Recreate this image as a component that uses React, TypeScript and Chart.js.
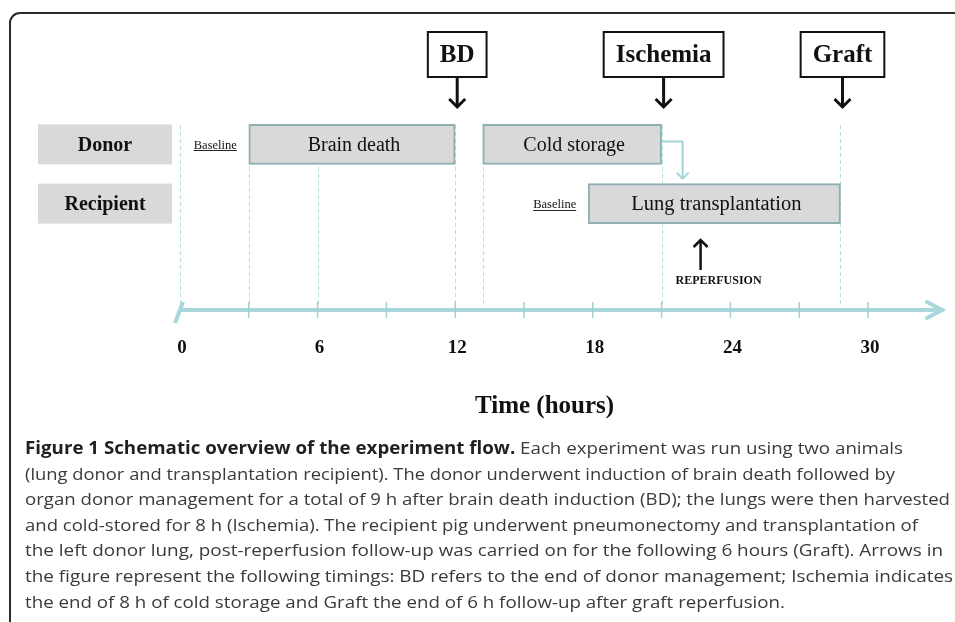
import React, { useEffect, useRef } from 'react';
import { Chart, registerables } from 'chart.js';

Chart.register(...registerables);

// ---------- data ----------
const phaseNames = ['Brain death', 'Cold storage', 'Lung transplantation'];
const phaseStart = [3, 13.2, 17.8];
const phaseEnd = [12, 21, 28.8];
const phaseRow = [2, 2, 1];

const rowNames = ['Donor', 'Recipient'];
const rowValues = [2, 1];
const baselineText = 'Baseline';

const eventNames = ['BD', 'Ischemia', 'Graft'];
const eventTimes = [12, 21, 28.8];

const reperfusionLabel = 'REPERFUSION';
const reperfusionTime = 22.7;

const guideTimes = [0, 3, 6, 12, 13.2, 21, 28.8];
const minorTickValues = [3, 6, 9, 12, 15, 18, 21, 24, 27, 30];
const tickLabelValues = [0, 6, 12, 18, 24, 30];
const tickLabels = ['0', '6', '12', '18', '24', '30'];
const axisTitle = 'Time (hours)';

const captionBold = 'Figure 1 Schematic overview of the experiment flow.';
const captionLines = [
  ' Each experiment was run using two animals',
  '(lung donor and transplantation recipient). The donor underwent induction of brain death followed by',
  'organ donor management for a total of 9 h after brain death induction (BD); the lungs were then harvested',
  'and cold-stored for 8 h (Ischemia). The recipient pig underwent pneumonectomy and transplantation of',
  'the left donor lung, post-reperfusion follow-up was carried on for the following 6 hours (Graft). Arrows in',
  'the figure represent the following timings: BD refers to the end of donor management; Ischemia indicates',
  'the end of 8 h of cold storage and Graft the end of 6 h follow-up after graft reperfusion.',
];

// ---------- layout (pixels) ----------
const W = 955;
const H = 622;
const AXIS_Y = 310;
const GUIDE_TOP = 125;
const CAPTION_X = 25;
const CAPTION_BASE = 454;
const CAPTION_STEP = 25.6;
const CAPTION_RIGHT = [903, 895, 950, 918, 943, 953, 785];
const SERIF = '"Liberation Serif", "Times New Roman", serif';
const SANS = '"Open Sans", "Noto Sans", sans-serif';
const TEAL = '#a9d7db';

function seg(ctx: CanvasRenderingContext2D, x1: number, y1: number, x2: number, y2: number) {
  ctx.beginPath();
  ctx.moveTo(x1, y1);
  ctx.lineTo(x2, y2);
  ctx.stroke();
}

function chevron(ctx: CanvasRenderingContext2D, x: number, y: number, dir: number, arm: number) {
  // dir: 1 = pointing down, -1 = pointing up
  ctx.beginPath();
  ctx.moveTo(x - arm, y - dir * arm);
  ctx.lineTo(x, y);
  ctx.lineTo(x + arm, y - dir * arm);
  ctx.stroke();
}

const diagramPlugin = {
  id: 'diagram',
  beforeDatasetsDraw(chart: any) {
    const ctx: CanvasRenderingContext2D = chart.ctx;
    const xs = chart.scales.x;
    ctx.save();
    // frame
    ctx.strokeStyle = '#2a2a2a';
    ctx.lineWidth = 2;
    ctx.beginPath();
    ctx.moveTo(W + 5, 13);
    ctx.lineTo(20, 13);
    ctx.arcTo(10, 13, 10, 23, 10);
    ctx.lineTo(10, H + 5);
    ctx.stroke();

    // dashed guides
    ctx.strokeStyle = '#b4dee2';
    ctx.lineWidth = 1;
    ctx.setLineDash([4, 3]);
    guideTimes.forEach((t) => {
      const x = Math.round(xs.getPixelForValue(t)) + 0.5;
      seg(ctx, x, GUIDE_TOP, x, AXIS_Y - 4);
    });
    ctx.setLineDash([]);

    // axis
    const x0 = xs.getPixelForValue(0);
    ctx.strokeStyle = TEAL;
    ctx.lineWidth = 4;
    seg(ctx, x0 - 1, AXIS_Y, 940, AXIS_Y);
    ctx.lineCap = 'round';
    chevron(ctx, 942, AXIS_Y, 1, 0);
    ctx.beginPath();
    ctx.moveTo(927, AXIS_Y - 8);
    ctx.lineTo(942, AXIS_Y);
    ctx.lineTo(927, AXIS_Y + 8);
    ctx.stroke();
    ctx.lineCap = 'butt';
    seg(ctx, x0 - 5, AXIS_Y + 13, x0 + 3, AXIS_Y - 8);

    // ticks
    ctx.lineWidth = 1.5;
    ctx.strokeStyle = '#a3d0d4';
    minorTickValues.forEach((t) => {
      const x = xs.getPixelForValue(t);
      seg(ctx, x, AXIS_Y - 8, x, AXIS_Y + 8);
    });

    // tick labels
    ctx.fillStyle = '#111';
    ctx.font = `bold 19px ${SERIF}`;
    ctx.textAlign = 'center';
    ctx.textBaseline = 'middle';
    tickLabelValues.forEach((t, i) => {
      ctx.fillText(tickLabels[i], xs.getPixelForValue(t) + 2, 348);
    });

    // axis title
    ctx.font = `bold 25px ${SERIF}`;
    ctx.textAlign = 'left';
    ctx.textBaseline = 'alphabetic';
    ctx.fillText(axisTitle, 475, 413);
    ctx.restore();
  },
  afterDatasetsDraw(chart: any) {
    const ctx: CanvasRenderingContext2D = chart.ctx;
    const xs = chart.scales.x;
    const ys = chart.scales.y;
    const bars = chart.getDatasetMeta(0).data;
    ctx.save();

    // phase labels
    ctx.fillStyle = '#111';
    ctx.textAlign = 'center';
    ctx.textBaseline = 'middle';
    bars.forEach((b: any, i: number) => {
      ctx.font = `${i === 2 ? 20.5 : 20}px ${SERIF}`;
      ctx.fillText(phaseNames[i], (b.x + b.base) / 2 + 2, b.y + 1);
    });

    // row label boxes
    rowValues.forEach((r, i) => {
      const y = ys.getPixelForValue(r);
      ctx.fillStyle = '#d9d9d9';
      ctx.fillRect(38, y - 20, 134, 40);
      ctx.fillStyle = '#111';
      ctx.font = `bold 20px ${SERIF}`;
      ctx.textAlign = 'center';
      ctx.fillText(rowNames[i], 105, y + 1);

      // baseline label before the first phase of the row
      let first = -1;
      phaseRow.forEach((pr, k) => {
        if (pr === r && (first < 0 || phaseStart[k] < phaseStart[first])) first = k;
      });
      if (first >= 0) {
        const b = bars[first];
        const right = b.base - 12;
        ctx.font = `12.5px ${SERIF}`;
        ctx.textAlign = 'right';
        const w = ctx.measureText(baselineText).width;
        ctx.fillText(baselineText, right, y + 1);
        ctx.strokeStyle = '#222';
        ctx.lineWidth = 1;
        seg(ctx, right - w, Math.round(y) + 6.5, right, Math.round(y) + 6.5);
      }
    });

    // event boxes and arrows
    ctx.font = `bold 25px ${SERIF}`;
    ctx.textAlign = 'center';
    eventNames.forEach((name, i) => {
      const x = xs.getPixelForValue(eventTimes[i]) + 2;
      const w = ctx.measureText(name).width + 24;
      ctx.fillStyle = '#fff';
      ctx.fillRect(x - w / 2, 32, w, 45);
      ctx.strokeStyle = '#111';
      ctx.lineWidth = 2;
      ctx.strokeRect(x - w / 2, 32, w, 45);
      ctx.fillStyle = '#111';
      ctx.fillText(name, x, 56);
      ctx.lineWidth = 3;
      seg(ctx, x, 77, x, 106);
      chevron(ctx, x, 107, 1, 8);
    });

    // connector cold storage -> lung transplantation
    const cs = bars[1];
    const lt = bars[2];
    const cx = cs.x + 21;
    ctx.strokeStyle = '#a3d4da';
    ctx.lineWidth = 2;
    ctx.beginPath();
    ctx.moveTo(cs.x, cs.y - 3);
    ctx.lineTo(cx, cs.y - 3);
    ctx.lineTo(cx, lt.y - 25);
    ctx.stroke();
    chevron(ctx, cx, lt.y - 25, 1, 6);

    // reperfusion arrow
    const rx = xs.getPixelForValue(reperfusionTime);
    ctx.strokeStyle = '#111';
    ctx.lineWidth = 2.5;
    seg(ctx, rx, 270, rx, 241);
    chevron(ctx, rx, 240, -1, 7);
    ctx.fillStyle = '#111';
    ctx.font = `bold 12px ${SERIF}`;
    ctx.textAlign = 'center';
    ctx.fillText(reperfusionLabel, rx + 18, 281);

    // caption
    ctx.textAlign = 'left';
    ctx.textBaseline = 'alphabetic';
    captionLines.forEach((line, i) => {
      const base = CAPTION_BASE + i * CAPTION_STEP;
      ctx.font = `bold 17px ${SANS}`;
      const bw = i === 0 ? ctx.measureText(captionBold).width : 0;
      ctx.font = `17px ${SANS}`;
      const rw = ctx.measureText(line).width;
      const s = (CAPTION_RIGHT[i] - CAPTION_X) / (bw + rw);
      ctx.save();
      ctx.translate(CAPTION_X, base);
      ctx.scale(s, 1);
      if (i === 0) {
        ctx.font = `bold 17px ${SANS}`;
        ctx.fillStyle = '#231f20';
        ctx.fillText(captionBold, 0, 0);
      }
      ctx.font = `17px ${SANS}`;
      ctx.fillStyle = '#3a3a3a';
      ctx.fillText(line, bw, 0);
      ctx.restore();
    });
    ctx.restore();
  },
};

export default function App() {
  const ref = useRef<HTMLCanvasElement | null>(null);
  useEffect(() => {
    document.body.style.margin = '0';
    if (!ref.current) return;
    const chart = new Chart(ref.current, {
      type: 'bar',
      data: {
        datasets: [
          {
            label: 'Phases',
            data: phaseNames.map((_, i) => ({ x: [phaseStart[i], phaseEnd[i]], y: phaseRow[i] })) as any,
            backgroundColor: '#d9d9d9',
            borderColor: '#8fb0b2',
            borderWidth: 2,
            borderSkipped: false,
            barThickness: 40,
            clip: false as any,
          },
        ],
      },
      options: {
        indexAxis: 'y',
        responsive: false,
        animation: false,
        events: [],
        layout: { padding: { left: 180, right: 87, top: 100, bottom: 374 } },
        plugins: { legend: { display: false }, tooltip: { enabled: false } },
        scales: {
          x: { type: 'linear', min: 0, max: 30, display: false },
          y: { type: 'linear', min: 0.5, max: 2.5, display: false },
        },
      },
      plugins: [diagramPlugin],
    });
    return () => chart.destroy();
  }, []);
  return <canvas ref={ref} width={W} height={H} style={{ display: 'block' }} />;
}
